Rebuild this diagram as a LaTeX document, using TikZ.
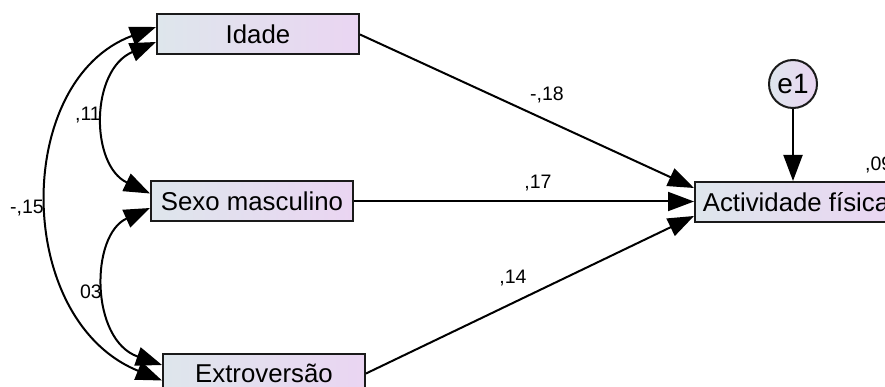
\documentclass[tikz,border=0pt]{standalone}
\usepackage{fontspec}
\setmainfont{Liberation Sans}
\usepackage{tikz}
\usetikzlibrary{arrows.meta}
\definecolor{boxl}{HTML}{DEE6EC}
\definecolor{boxr}{HTML}{EAD5F2}
\definecolor{edge}{HTML}{1A1A1A}
\tikzset{
  var/.style={draw=edge, line width=2pt, left color=boxl, right color=boxr,
    minimum width=202pt, minimum height=40pt, inner sep=0pt,
    font=\fontsize{25.8}{30}\selectfont},
  err/.style={circle, draw=edge, line width=2pt, left color=boxl, right color=boxr,
    minimum size=48pt, inner sep=0pt, font=\fontsize{28}{32}\selectfont},
  path/.style={draw=black, line width=2pt, -{Triangle[length=26pt,width=19pt]}},
  cov/.style={draw=black, line width=2pt,
    {Triangle[length=26pt,width=19pt]}-{Triangle[length=26pt,width=19pt]}},
  lab/.style={inner sep=0pt, font=\fontsize{19.5}{22}\selectfont},
}

\begin{document}
\begin{tikzpicture}[x=1pt,y=-1pt]
  \useasboundingbox (0,0) rectangle (885,387);
  \clip (0,0) rectangle (885,387);

  \node[var] (idade) at (258,34.5) {Idade};
  \node[var] (sexo) at (252,201.5) {Sexo masculino};
  \node[var] (extro) at (264,373.5) {Extroversão};
  \node[var] (act) at (796,202) {Actividade física};
  \node[err] (e1) at (793,84) {e1};

  % regressoes
  \draw[path] (idade.east) -- ([yshift=14pt]act.west);
  \draw[path] (sexo.east) -- (sexo.east -| act.west);
  \draw[path] (extro.east) -- ([yshift=-14pt]act.west);
  \draw[path] (e1.south) -- (e1.south |- act.north);

  % covariancias
  \draw[cov] ([yshift=-7.5pt]idade.west) .. controls (90,70) and (90,165) .. ([yshift=8pt]sexo.west);
  \draw[cov] ([yshift=7.5pt]idade.west) .. controls (13,80) and (13,320) .. ([yshift=-7pt]extro.west);
  \draw[cov] ([yshift=-6.5pt]sexo.west) .. controls (90,235) and (90,340) .. ([yshift=8.5pt]extro.west);

  \node[lab] (l18) at (547,95) {-,18};
  \node[lab] (l17) at (538,183) {,17};
  \node[lab] (l14) at (513,278) {,14};
  \node[lab] (l11) at (88,115) {,11};
  \node[lab] (l15) at (27,208) {-,15};
  \node[lab] (l03) at (91,292) {03};
  \node[lab, anchor=west] (l09) at (865,165) {,09};
\end{tikzpicture}
\end{document}
